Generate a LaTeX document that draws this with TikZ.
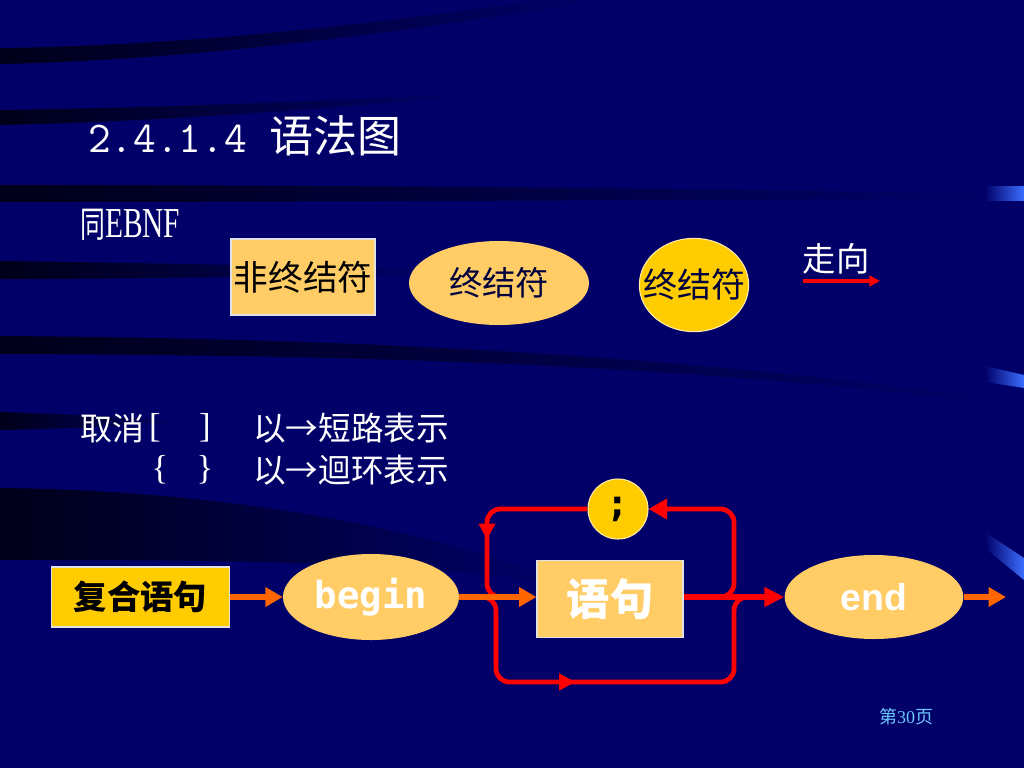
\documentclass[tikz,border=0pt]{standalone}
\usepackage{fontspec}
\setmainfont{Liberation Serif}
\newfontfamily\cjk{Noto Sans CJK SC}
\newfontfamily\monob{DejaVu Sans Mono}
\newfontfamily\arialf{Liberation Sans}
\usetikzlibrary{shapes.geometric,arrows.meta,decorations.markings,fadings}
\definecolor{bg}{RGB}{0,0,104}
\definecolor{lorange}{RGB}{255,204,102}
\definecolor{gold}{RGB}{255,204,0}
\definecolor{goldedge}{RGB}{255,236,170}
\definecolor{boxedge}{RGB}{225,225,225}
\definecolor{arrowor}{RGB}{255,102,0}
\definecolor{lineRed}{RGB}{255,0,0}
\definecolor{pageblue}{RGB}{110,200,255}
\definecolor{txtnavy}{RGB}{0,0,60}
\definecolor{barblue}{RGB}{60,110,255}
\tikzfading[name=fadeR, left color=transparent!0, right color=transparent!100]
\begin{document}
\begin{tikzpicture}[x=0.75pt,y=-0.75pt,
  box/.style={rectangle, inner sep=0pt, draw=boxedge, line width=0.8pt},
  oval/.style={ellipse, inner sep=0pt},
  orarrow/.style={draw=arrowor, line width=5pt, -{Triangle[length=13pt,width=14pt]}},
  redmain/.style={draw=lineRed, line width=4.8pt, -{Triangle[length=15pt,width=14pt]}},
  redloop/.style={color=lineRed, line width=3.6pt, rounded corners=10pt},
  redtip/.style={-{Triangle[length=14pt,width=15pt]}},
  midarrow/.style={postaction={decorate}, decoration={markings, mark=at position #1 with {\arrow{Triangle[length=12pt,width=12pt]}}}},
  band/.style={fill=black, path fading=fadeR, fill opacity=0.75},
  txt/.style={inner sep=0pt, text=white}
]
\useasboundingbox (0,0) rectangle (1024,768);
\fill[bg] (0,0) rectangle (1024,768);
% background bands
\fill[band] (0,48) .. controls (180,46) and (380,24) .. (540,0) -- (600,0) .. controls (420,30) and (200,60) .. (0,64) -- cycle;
\fill[band] (0,110) .. controls (150,108) and (300,102) .. (460,94) -- (460,98) .. controls (300,110) and (150,122) .. (0,125) -- cycle;
\fill[band] (0,185) .. controls (300,185) and (700,188) .. (1000,194) -- (1000,198) .. controls (700,200) and (300,202) .. (0,202) -- cycle;
\fill[band] (0,261) .. controls (150,263) and (300,266) .. (450,270) -- (450,274) .. controls (300,276) and (150,279) .. (0,279) -- cycle;
\fill[band] (0,336) .. controls (300,338) and (650,350) .. (1000,400) -- (1000,404) .. controls (650,360) and (300,355) .. (0,354) -- cycle;
\fill[band] (0,412) .. controls (60,414) and (120,417) .. (180,420) -- (180,422) .. controls (120,426) and (60,429) .. (0,430) -- cycle;
\fill[band] (0,488) .. controls (200,490) and (400,520) .. (560,580) -- (560,584) .. controls (400,560) and (200,560) .. (0,560) -- cycle;
% right-side blue bars
\shade[left color=bg, right color=barblue] (985,186) -- (1024,186) -- (1024,200) -- (985,200) -- cycle;
\shade[left color=bg, right color=barblue] (985,366) -- (1024,375) -- (1024,388) -- (985,382) -- cycle;
\shade[left color=bg, right color=barblue] (985,532) -- (1024,558) -- (1024,580) -- (985,548) -- cycle;

% title
\node[txt, anchor=base west] (title) at (88,152) {\fontsize{33}{40}\selectfont\ttfamily 2.4.1.4\ {\cjk 语法图}};
\node[txt, anchor=base west] (ebnf) at (80,237) {\scalebox{0.69}[1]{\fontsize{27}{30}\selectfont{\cjk 同}\fontsize{32}{36}\selectfont EBNF}};

% legend
\node[box, fill=lorange, minimum width=108pt, minimum height=57pt] (nt) at (303,277) {\fontsize{26}{30}\selectfont\cjk 非终结符};
\node[oval, fill=lorange, minimum width=135pt, minimum height=63pt] (t1) at (499,283) {\makebox[0pt]{\color{txtnavy}\fontsize{25}{30}\selectfont\cjk 终结符}};
\node[oval, fill=gold, draw=goldedge, line width=0.8pt, minimum width=82pt, minimum height=70pt] (t2) at (694,285) {\makebox[0pt]{\color{txtnavy}\fontsize{25.5}{30}\selectfont\cjk 终结符}};
\node[txt] (dirlab) at (836,259) {\fontsize{25}{30}\selectfont\cjk 走向};
\coordinate (d1) at (803,281);
\coordinate (d2) at (880,281);
\draw[draw=lineRed, line width=2.6pt, -{Triangle[length=8pt,width=8pt]}] (d1) -- (d2);

% notes
\node[txt, anchor=west] (c1) at (80,428) {\fontsize{24}{28}\selectfont\cjk 取消};
\node[txt] (c1a) at (155,428) {\fontsize{26}{28}\selectfont [};
\node[txt] (c1b) at (205,428) {\fontsize{26}{28}\selectfont ]};
\node[txt, anchor=west] (c1c) at (253,428) {\fontsize{24.5}{28}\selectfont\cjk 以→短路表示};
\node[txt] (c2a) at (160,470) {\fontsize{26}{28}\selectfont \{};
\node[txt] (c2b) at (205,470) {\fontsize{26}{28}\selectfont \}};
\node[txt, anchor=west] (c2c) at (253,470) {\fontsize{24.5}{28}\selectfont\cjk 以→迴环表示};

% syntax diagram
\node[box, fill=gold, minimum width=134pt, minimum height=45pt] (cs) at (140.5,597) {\fontsize{25}{30}\selectfont\cjk\bfseries 复合语句};
\node[oval, fill=lorange, minimum width=132pt, minimum height=64.5pt] (begin) at (371,597) {\makebox[0pt]{\color{white}\fontsize{28}{30}\selectfont\monob\bfseries begin}};
\node[box, fill=lorange, minimum width=109.5pt, minimum height=57.75pt] (stmt) at (610,599) {\color{white}\fontsize{32.5}{36}\selectfont\cjk\bfseries 语句};
\node[oval, fill=gold, draw=goldedge, line width=0.8pt, minimum width=45pt, minimum height=45pt] (semi) at (618,509) {\makebox[0pt]{\fontsize{28}{30}\selectfont\monob\bfseries ;}};
\node[oval, fill=lorange, minimum width=134pt, minimum height=63pt] (endn) at (874,597) {\makebox[0pt]{\color{white}\fontsize{28}{30}\selectfont\arialf\bfseries end}};
\coordinate (out) at (1006,597);

\coordinate (lx) at (487,597);
\coordinate (lj) at (512,597);
\coordinate (bx0) at (466,597);
\coordinate (bl) at (496,682);
\coordinate (br) at (734,682);
\coordinate (bj) at (754,597);
\coordinate (tr0) at (712,597);
\coordinate (tr) at (734,509);

\draw[redloop, midarrow=0.62] (semi.west) -| (lx) -- (lj);
\draw[redloop, redtip] (tr0) -| (tr) -- (semi.east);
\draw[redloop, midarrow=0.42] (bx0) -| (bl) -- (br) |- (bj);
\draw[redmain] (stmt.east |- begin.east) -- (endn.west);

\draw[orarrow] (cs.east) -- (begin.west);
\draw[orarrow] (begin.east) -- (begin.east -| stmt.west);
\draw[orarrow] (endn.east) -- (out);

\node[inner sep=0pt, text=pageblue] (pg) at (906,717) {\fontsize{13.5}{16}\selectfont{\cjk 第}30{\cjk 页}};
\end{tikzpicture}
\end{document}
